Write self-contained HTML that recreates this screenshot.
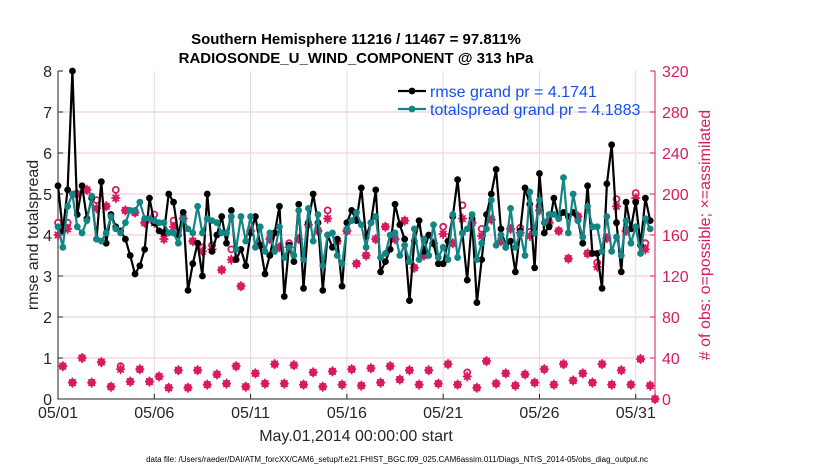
<!DOCTYPE html>
<html><head><meta charset="utf-8"><style>
body{margin:0;background:#fff;}
svg{display:block;font-family:"Liberation Sans",Arial,sans-serif;}
</style></head><body>
<svg id="c" width="830" height="470" viewBox="0 0 830 470"></svg>
<script>
const rmse=[5.2,4.1,5.1,8.0,4.5,5.2,4.4,4.9,3.9,5.3,3.8,4.5,4.2,4.1,3.9,3.5,3.05,3.25,3.65,4.9,4.3,4.1,4.05,5.0,4.8,4.0,4.55,2.65,3.3,3.8,3.0,5.0,3.6,4.0,4.45,3.8,4.6,3.4,3.65,3.25,4.05,4.45,3.75,3.05,3.5,4.05,4.7,2.5,3.75,3.35,4.75,2.7,4.3,5.0,4.3,2.65,4.0,3.7,3.9,2.75,4.3,4.6,4.35,5.15,3.95,4.3,5.1,3.1,3.35,3.65,4.75,4.25,3.9,2.4,3.85,4.35,3.6,4.0,3.8,3.3,3.3,3.85,4.45,5.35,4.05,2.9,4.4,2.35,3.4,4.5,5.0,5.6,4.15,3.7,3.85,3.1,4.1,5.15,4.75,3.2,5.5,4.05,4.2,4.9,4.4,4.55,4.45,4.55,4.35,3.8,5.2,3.55,3.55,2.7,5.25,6.2,4.3,3.1,4.8,4.15,4.8,3.75,4.9,4.35];
const spread=[4.2,3.7,4.7,5.0,4.2,4.05,4.35,4.95,3.9,3.85,4.05,4.45,4.15,4.05,4.3,4.6,4.6,4.8,4.4,4.4,4.35,4.3,4.3,4.05,4.05,3.8,4.4,4.15,4.05,4.7,4.05,4.4,4.35,4.3,4.05,4.05,4.45,3.65,4.45,3.85,4.45,3.7,4.2,3.6,4.05,3.6,4.2,3.45,3.7,3.5,4.6,3.4,4.65,3.85,4.5,3.25,4.0,4.05,3.5,3.3,4.15,4.35,4.55,4.25,3.7,4.3,4.45,3.45,3.55,4.0,4.05,3.5,3.75,3.35,4.15,3.4,3.9,3.5,4.25,3.45,3.7,3.4,4.5,3.45,4.05,4.15,4.5,3.4,3.8,4.15,4.85,3.75,4.0,3.7,4.65,3.7,4.05,3.5,5.05,4.05,4.85,4.3,4.5,4.5,4.4,5.4,4.05,5.0,4.35,3.95,4.7,4.2,4.2,3.6,4.45,3.6,3.95,3.5,4.35,3.8,4.2,3.55,4.4,4.15];
const possHigh=[172,172,200,204,194,188,204,184,182,172,180,162,174,176,154,148,150,126,146,110,164,150,156,148,152,156,170,164,184,154,164,132,140,156,168,156,174,128,140,152,168,152,189,172,166,175,154,166,167,163,188,172,164,137,178,142,133,157,195,164,201,152,0];
const assimHigh=[160,166,200,204,186,188,196,184,182,172,172,156,168,176,154,144,146,126,136,110,164,150,156,148,148,156,170,164,176,154,164,132,140,156,168,156,174,128,140,152,161,152,176,172,159,175,154,166,162,159,184,172,164,137,178,142,129,157,188,164,196,146,0];
const possLow=[32,16,40,16,36,12,32,17,29,17,22,11,28,11,28,14,24,15,32,12,25,15,34,15,33,14,26,12,27,14,29,13,30,16,32,19,28,14,28,15,34,14,26,11,37,15,25,13,24,16,29,14,34,18,25,16,34,14,28,14,39,13];
const assimLow=[32,16,40,16,36,12,29,17,29,17,22,11,28,11,28,14,24,15,32,12,25,15,34,15,33,14,26,12,27,14,29,13,30,16,32,19,28,14,28,15,34,14,22,11,37,15,25,13,24,16,29,14,34,18,25,16,34,14,28,14,39,13];
const yTicks=[0,1,2,3,4,5,6,7,8];
const rTicks=[0,40,80,120,160,200,240,280,320];
const xTickDays=[0,5,10,15,20,25,30];
const xTickLabels=["05/01","05/06","05/11","05/16","05/21","05/26","05/31"];

const L=58,R=655,T=71,B=399,DAYS=31;
const X=d=>L+(R-L)*d/DAYS;
const Y=v=>B-(B-T)*v/8;
const YR=v=>B-(B-T)*v/320;
const svg=document.getElementById('c');
const NS='http://www.w3.org/2000/svg';
function mk(tag,at,parent){const e=document.createElementNS(NS,tag);for(const k in at)e.setAttribute(k,at[k]);(parent||svg).appendChild(e);return e;}
const PINK='#d81b60',TEAL='#138585';

yTicks.forEach(v=>{if(v>0&&v<8){const g=mk('line',{x1:L,x2:R,y1:Y(v),y2:Y(v),stroke:'#f2c6d6','stroke-width':1});

}});
xTickDays.forEach(d=>{if(d>0){const g=mk('line',{x1:X(d),x2:X(d),y1:T,y2:B,stroke:'#dcdcdc','stroke-width':1});

}});

const ax=mk('path',{d:`M${L},${T}V${B}H${R}`,fill:'none',stroke:'#222','stroke-width':1});


const rax=mk('line',{x1:R,x2:R,y1:T,y2:B,stroke:PINK,'stroke-width':1});



yTicks.forEach(v=>{
 const tk=mk('line',{x1:L,x2:L+5,y1:Y(v),y2:Y(v),stroke:'#222'});
 
 
 const t=mk('text',{x:L-6,y:Y(v)+6,'text-anchor':'end','font-size':16,fill:'#262626'});t.textContent=v;
 
 
});
rTicks.forEach(v=>{
 const tk=mk('line',{x1:R-5,x2:R,y1:YR(v),y2:YR(v),stroke:PINK});
 
 
 const t=mk('text',{x:R+7,y:YR(v)+6,'font-size':16,fill:PINK});t.textContent=v;
 
 
});
xTickDays.forEach((d,i)=>{
 const tk=mk('line',{x1:X(d),x2:X(d),y1:B,y2:B-5,stroke:'#222'});
 
 
 const t=mk('text',{x:X(d),y:B+19,'text-anchor':'middle','font-size':16,fill:'#262626'});t.textContent=xTickLabels[i];
 
 
});

function star(x,y,g){
 mk('path',{d:`M${x-4},${y}L${x},${y-4.5}L${x+4},${y}L${x},${y+4.5}Z`,fill:PINK},g);
 mk('path',{d:`M${x-4.5},${y}H${x+4.5}M${x},${y-5}V${y+5}M${x-3.3},${y-3.3}L${x+3.3},${y+3.3}M${x-3.3},${y+3.3}L${x+3.3},${y-3.3}`,stroke:PINK,'stroke-width':1.6},g);
}
const obsG=mk('g',{});


function slotX(i){return X(i*0.25);}
possHigh.forEach((v,k)=>{const i=2*k;
 const c=mk('circle',{cx:slotX(i),cy:YR(v),r:3,fill:'#fff',stroke:PINK,'stroke-width':1.8},obsG);
 
 });
possLow.forEach((v,k)=>{const i=2*k+1;
 const c=mk('circle',{cx:slotX(i),cy:YR(v),r:3,fill:'#fff',stroke:PINK,'stroke-width':1.8},obsG);
 
 });
assimHigh.forEach((v,k)=>star(slotX(2*k),YR(v),obsG));
assimLow.forEach((v,k)=>star(slotX(2*k+1),YR(v),obsG));

function series(vals,color,name){
 const g=mk('g',{});
 
 
 const d=vals.map((v,i)=>(i?'L':'M')+slotX(i).toFixed(1)+','+Y(v).toFixed(1)).join('');
 mk('path',{d:d,fill:'none',stroke:color,'stroke-width':2.2,'stroke-linejoin':'round'},g);
 vals.forEach((v,i)=>{const c=mk('circle',{cx:slotX(i),cy:Y(v),r:3.4,fill:color},g);
  
  });
}
series(rmse,'#000','rmse-series');
series(spread,TEAL,'spread-series');

function leg(y,color,label,name){
 const g=mk('g',{});
 
 
 mk('line',{x1:398,x2:426,y1:y,y2:y,stroke:color,'stroke-width':2.2},g);
 mk('circle',{cx:412,cy:y,r:3.4,fill:color},g);
 const t=mk('text',{x:430,y:y+6,'font-size':16,fill:'#1450f0'},g);t.textContent=label;
}
leg(91,'#000','rmse grand pr = 4.1741','legend-entry-rmse');
leg(109,TEAL,'totalspread grand pr = 4.1883','legend-entry-spread');

function txt(x,y,s,at,name){const t=mk('text',Object.assign({x:x,y:y},at));t.textContent=s;
 
 return t;}
txt(356,44,'Southern Hemisphere 11216 / 11467 = 97.811%',{'text-anchor':'middle','font-size':15,'font-weight':'bold',fill:'#000'},'chart-title');
txt(356,63,'RADIOSONDE_U_WIND_COMPONENT @ 313 hPa',{'text-anchor':'middle','font-size':15,'font-weight':'bold',fill:'#000'},'chart-subtitle');
txt(356,441,'May.01,2014 00:00:00 start',{'text-anchor':'middle','font-size':16,fill:'#262626'},'x-axis-title');
txt(0,0,'rmse and totalspread',{'text-anchor':'middle','font-size':16,fill:'#262626',transform:'translate(38,235) rotate(-90)'},'y-axis-title');
txt(0,0,'# of obs: o=possible; \u00d7=assimilated',{'text-anchor':'middle','font-size':16,fill:PINK,transform:'translate(710,235) rotate(-90)'},'right-axis-title');
txt(397,462,'data file: /Users/raeder/DAI/ATM_forcXX/CAM6_setup/f.e21.FHIST_BGC.f09_025.CAM6assim.011/Diags_NTrS_2014-05/obs_diag_output.nc',{'text-anchor':'middle','font-size':8,fill:'#000'},'data-file-note');
</script>
</body></html>
